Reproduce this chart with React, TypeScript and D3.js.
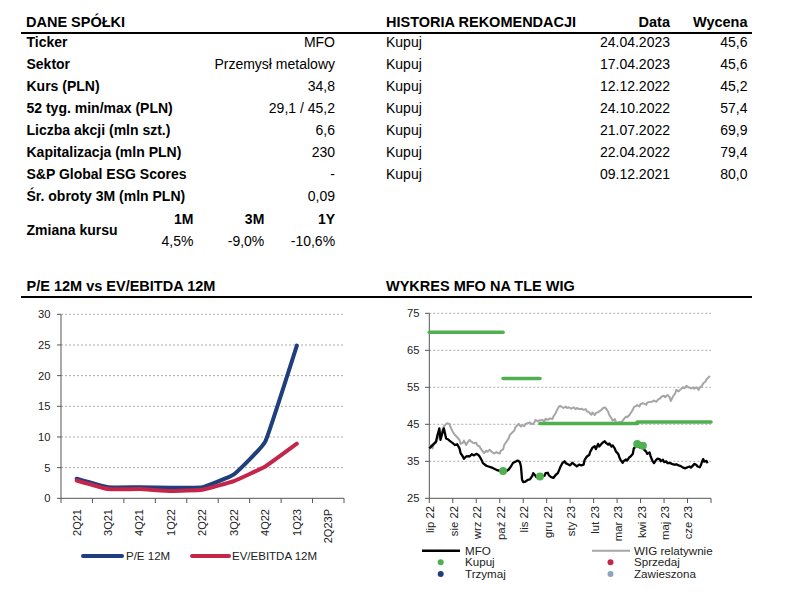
import React from "react";
import * as d3 from "d3";

// ---------- Table data ----------
const companyLabels = ["Ticker", "Sektor", "Kurs (PLN)", "52 tyg. min/max (PLN)", "Liczba akcji (mln szt.)", "Kapitalizacja (mln PLN)", "S&P Global ESG Scores", "Śr. obroty 3M (mln PLN)"];
const companyValues = ["MFO", "Przemysł metalowy", "34,8", "29,1 / 45,2", "6,6", "230", "-", "0,09"];
const changePeriods = ["1M", "3M", "1Y"];
const changeValues = ["4,5%", "-9,0%", "-10,6%"];

const recTypes = ["Kupuj", "Kupuj", "Kupuj", "Kupuj", "Kupuj", "Kupuj", "Kupuj"];
const recDates = ["24.04.2023", "17.04.2023", "12.12.2022", "24.10.2022", "21.07.2022", "22.04.2022", "09.12.2021"];
const recValues = ["45,6", "45,6", "45,2", "57,4", "69,9", "79,4", "80,0"];

// ---------- P/E vs EV/EBITDA ----------
const quarters = ["2Q21", "3Q21", "4Q21", "1Q22", "2Q22", "3Q22", "4Q22", "1Q23", "2Q23P"];
const peValues: (number | null)[] = [3.2, 1.8, 1.8, 1.7, 1.8, 3.9, 9.3, 24.9, null];
const evValues: (number | null)[] = [2.9, 1.5, 1.5, 1.2, 1.4, 2.8, 5.2, 8.9, null];
const leftTicks = [0, 5, 10, 15, 20, 25, 30];

// ---------- MFO vs WIG (x = trading-day index) ----------
const monthLabels = ["lip 22", "sie 22", "wrz 22", "paź 22", "lis 22", "gru 22", "sty 23", "lut 23", "mar 23", "kwi 23", "maj 23", "cze 23", ""];
const rightTicks = [25, 35, 45, 55, 65, 75];
const mfoPoints: [number, number][] = [
  [0, 38.5], [2, 39.1], [4, 39.7], [6, 40.3], [7, 41.7], [9, 43.9], [10, 40.8], [12, 43.0], [13, 43.9], [15, 41.2],
  [17, 40.9], [18, 40.6], [21, 39.9], [23, 39.4], [25, 39.6], [27, 38.5], [28, 37.2], [30, 36.3], [31, 35.7], [33, 36.3],
  [35, 36.4], [36, 36.3], [38, 36.9], [40, 36.6], [42, 37.0], [44, 36.7], [45, 36.3], [47, 35.2], [48, 34.5], [51, 33.8],
  [53, 33.6], [56, 33.3], [58, 33.0], [60, 32.7], [63, 32.4], [65, 32.2], [67, 32.7], [69, 32.4], [71, 32.8], [73, 33.6],
  [75, 34.6], [77, 34.9], [79, 35.2], [81, 34.8], [82, 33.6], [83, 30.0], [84, 29.4], [86, 29.5], [88, 30.0], [90, 30.1],
  [92, 31.0], [93, 31.8], [95, 31.1], [96, 30.7], [98, 31.0], [101, 30.9], [103, 31.1], [104, 31.8], [106, 31.9], [107, 31.2],
  [109, 30.7], [111, 30.5], [113, 31.3], [115, 31.8], [117, 33.3], [119, 34.5], [121, 35.0], [122, 34.5], [124, 34.2], [126, 33.9],
  [128, 34.6], [130, 34.1], [132, 33.6], [134, 34.1], [136, 33.9], [138, 34.1], [139, 35.4], [141, 36.3], [143, 36.7], [144, 37.6],
  [146, 38.7], [148, 39.1], [149, 38.3], [151, 39.7], [152, 39.0], [154, 39.7], [155, 40.0], [157, 40.4], [158, 40.0], [160, 39.5],
  [161, 39.8], [163, 39.0], [164, 39.3], [166, 38.4], [167, 37.6], [169, 37.0], [170, 36.1], [171, 35.4], [173, 34.6], [174, 35.1],
  [176, 35.5], [177, 35.2], [179, 36.1], [180, 36.3], [182, 37.0], [183, 38.5], [185, 39.1], [186, 39.7], [188, 38.8], [189, 39.3],
  [191, 39.1], [192, 38.2], [194, 37.6], [195, 37.0], [197, 37.4], [198, 36.3], [200, 34.9], [201, 34.5], [203, 35.4], [204, 35.7],
  [206, 35.6], [207, 35.0], [209, 35.4], [210, 34.8], [212, 35.0], [213, 34.5], [215, 34.6], [217, 34.3], [219, 34.1], [221, 34.2],
  [223, 33.9], [225, 33.7], [227, 33.3], [229, 33.1], [231, 33.4], [233, 33.6], [234, 33.3], [236, 33.9], [237, 34.3], [239, 34.0],
  [240, 33.6], [242, 33.4], [243, 34.0], [244, 34.9], [245, 35.6], [246, 34.9], [248, 35.1], [249, 34.5],
];
const wigPoints: [number, number][] = [
  [0, 39.0], [1, 39.3], [3, 38.5], [4, 39.7], [6, 40.0], [7, 40.9], [10, 42.4], [12, 43.6], [13, 44.5], [16, 45.3],
  [18, 45.1], [19, 44.2], [21, 43.0], [23, 42.1], [25, 41.5], [27, 40.8], [28, 39.7], [30, 40.0], [31, 40.6], [33, 39.4],
  [34, 40.0], [36, 40.8], [37, 40.5], [39, 40.0], [40, 39.9], [42, 40.0], [43, 39.3], [45, 39.0], [46, 38.4], [48, 37.6],
  [49, 37.2], [51, 37.9], [52, 37.6], [54, 38.1], [55, 37.8], [57, 37.3], [58, 37.1], [60, 37.5], [61, 37.3], [63, 37.1],
  [64, 37.9], [66, 38.2], [67, 39.4], [69, 40.3], [71, 41.2], [72, 42.1], [74, 42.7], [76, 43.3], [77, 44.2], [79, 44.8],
  [80, 45.1], [82, 44.4], [83, 44.8], [85, 44.5], [86, 45.1], [88, 45.3], [90, 45.5], [92, 45.0], [94, 45.5], [95, 46.2],
  [97, 45.8], [98, 46.0], [101, 46.2], [103, 45.8], [104, 46.5], [106, 46.2], [108, 46.6], [110, 46.4], [111, 47.1], [113, 48.0],
  [114, 48.7], [116, 49.8], [117, 50.0], [119, 49.6], [120, 49.4], [122, 49.8], [123, 49.4], [125, 49.6], [127, 49.2], [129, 49.6],
  [131, 49.1], [132, 49.4], [134, 49.1], [136, 49.2], [138, 48.9], [140, 49.1], [141, 48.5], [143, 48.2], [145, 47.6], [146, 48.2],
  [148, 47.5], [149, 48.0], [151, 48.3], [152, 48.5], [154, 48.9], [155, 49.3], [157, 49.6], [158, 49.3], [160, 48.4], [161, 47.5],
  [163, 46.6], [164, 46.0], [166, 46.4], [167, 45.6], [169, 45.1], [170, 45.7], [171, 45.3], [173, 46.0], [174, 46.4], [176, 47.1],
  [177, 46.9], [179, 47.5], [180, 48.0], [182, 48.9], [183, 49.6], [185, 50.0], [186, 50.2], [188, 49.8], [189, 50.5], [191, 50.7],
  [194, 50.3], [195, 50.9], [197, 51.0], [199, 51.1], [201, 51.4], [203, 51.1], [205, 51.8], [206, 51.9], [208, 52.5], [210, 52.7],
  [211, 52.3], [213, 52.9], [215, 52.3], [216, 51.3], [218, 52.5], [220, 53.4], [221, 54.3], [223, 53.9], [225, 54.5], [227, 55.0],
  [228, 54.7], [230, 55.4], [232, 55.0], [234, 54.7], [236, 55.0], [237, 54.6], [239, 55.0], [241, 54.3], [242, 55.0], [244, 55.4],
  [245, 56.1], [247, 56.5], [248, 57.2], [250, 57.7], [251, 58.1],
];
const targetStart = [0, 66, 99, 186];
const targetEnd = [66, 99, 186, 252];
const targetValue = [69.9, 57.4, 45.2, 45.6];
const buyDotDay = [66, 99, 186, 191];
const buyDotPrice = [32.4, 30.9, 39.7, 39.2];

const FONT = "'Liberation Sans', Arial, sans-serif";
const GREEN = "#4fb050";
const NAVY = "#1f3e7c";
const CRIMSON = "#c3254b";
const GREY = "#a6a6a6";

export default function App() {
  // Left chart scales
  const lx = d3.scaleBand<string>().domain(quarters).range([61, 344]).padding(0);
  const ly = d3.scaleLinear().domain([0, 30]).range([498.3, 314.3]);
  const lineL = d3
    .line<number | null>()
    .defined((d) => d !== null)
    .x((_, i) => (lx(quarters[i]) as number) + lx.bandwidth() / 2)
    .y((d) => ly(d as number))
    .curve(d3.curveCardinal.tension(0.7));

  // Right chart scales
  const rx = d3.scaleLinear().domain([0, 252]).range([429.3, 711]);
  const ry = d3.scaleLinear().domain([25, 75]).range([498.3, 313.3]);
  const lineR = d3.line<[number, number]>().x((d) => rx(d[0])).y((d) => ry(d[1]));
  const monthTicks = monthLabels.map((_, i) => i * 21);

  const rowY = (i: number) => 47.3 + i * 22;

  return (
    <div style={{ position: "absolute", left: 0, top: 0 }}>
      <svg width={800} height={602} style={{ display: "block", background: "#fff" }} fontFamily={FONT}>
        <rect width={800} height={602} fill="#fff" />
        {/* ===== Top tables ===== */}
        <text x={26} y={26.5} fontSize={14.5} fontWeight="bold" fill="#000">DANE SPÓŁKI</text>
        <text x={386} y={26.5} fontSize={14.5} fontWeight="bold" fill="#000">HISTORIA REKOMENDACJI</text>
        <text x={670} y={26.5} fontSize={14.5} fontWeight="bold" textAnchor="end" fill="#000">Data</text>
        <text x={747.5} y={26.5} fontSize={14.5} fontWeight="bold" textAnchor="end" fill="#000">Wycena</text>
        <line x1={21} x2={752} y1={33} y2={33} stroke="#000" strokeWidth={2} />

        {companyLabels.map((l, i) => (
          <g key={l}>
            <text x={26.5} y={rowY(i)} fontSize={14} fontWeight="bold" fill="#000">{l}</text>
            <text x={335} y={rowY(i)} fontSize={14} textAnchor="end" fill="#000">{companyValues[i]}</text>
          </g>
        ))}
        <text x={26.5} y={234.5} fontSize={14} fontWeight="bold" fill="#000">Zmiana kursu</text>
        {changePeriods.map((p, i) => (
          <g key={p}>
            <text x={193.5 + i * 70.8} y={224} fontSize={14} fontWeight="bold" textAnchor="end" fill="#000">{p}</text>
            <text x={193.5 + i * 70.8} y={245.7} fontSize={14} textAnchor="end" fill="#000">{changeValues[i]}</text>
          </g>
        ))}

        {recDates.map((d, i) => (
          <g key={d}>
            <text x={386} y={rowY(i)} fontSize={14} fill="#000">{recTypes[i]}</text>
            <text x={670} y={rowY(i)} fontSize={14} textAnchor="end" fill="#000">{d}</text>
            <text x={747.5} y={rowY(i)} fontSize={14} textAnchor="end" fill="#000">{recValues[i]}</text>
          </g>
        ))}

        {/* ===== Section titles ===== */}
        <text x={26.5} y={290.5} fontSize={14.5} fontWeight="bold" fill="#000">P/E 12M vs EV/EBITDA 12M</text>
        <text x={386} y={290.5} fontSize={14.5} fontWeight="bold" fill="#000">WYKRES MFO NA TLE WIG</text>
        <line x1={21} x2={752} y1={297} y2={297} stroke="#000" strokeWidth={2} />

        {/* ===== Left chart ===== */}
        {leftTicks.map((t) => (
          <g key={t}>
            {t > 0 && (
              <line x1={61} x2={344} y1={ly(t)} y2={ly(t)} stroke="#aaa" strokeWidth={1} strokeDasharray="2,2" />
            )}
            <line x1={57} x2={61} y1={ly(t)} y2={ly(t)} stroke="#555" />
            <text x={50.5} y={ly(t)} dy="0.35em" fontSize={11.2} textAnchor="end" fill="#222">{t}</text>
          </g>
        ))}
        <line x1={61} x2={61} y1={314.3} y2={498.3} stroke="#555" />
        <line x1={61} x2={344} y1={498.3} y2={498.3} stroke="#555" />
        {quarters.map((q, i) => (
          <g key={q}>
            <line x1={lx(q) as number} x2={lx(q) as number} y1={498.3} y2={503} stroke="#555" />
            {i === quarters.length - 1 && <line x1={344} x2={344} y1={498.3} y2={503} stroke="#555" />}
            <text
              transform={`translate(${(lx(q) as number) + lx.bandwidth() / 2},509) rotate(-90)`}
              textAnchor="end"
              dy="0.35em"
              fontSize={11}
              fill="#222"
            >
              {q}
            </text>
          </g>
        ))}
        <path d={lineL(peValues) || ""} fill="none" stroke={NAVY} strokeWidth={4} strokeLinejoin="round" strokeLinecap="round" />
        <path d={lineL(evValues) || ""} fill="none" stroke={CRIMSON} strokeWidth={4} strokeLinejoin="round" strokeLinecap="round" />

        {/* left legend */}
        <line x1={83} x2={122} y1={556} y2={556} stroke={NAVY} strokeWidth={4} strokeLinecap="round" />
        <text x={126} y={556} dy="0.35em" fontSize={11.5} fill="#222">P/E 12M</text>
        <line x1={192} x2={229} y1={556} y2={556} stroke={CRIMSON} strokeWidth={4} strokeLinecap="round" />
        <text x={232} y={556} dy="0.35em" fontSize={11.5} fill="#222">EV/EBITDA 12M</text>

        {/* ===== Right chart ===== */}
        {rightTicks.map((t) => (
          <g key={t}>
            {t > 25 && (
              <line x1={429.3} x2={711} y1={ry(t)} y2={ry(t)} stroke="#aaa" strokeWidth={1} strokeDasharray="2,2" />
            )}
            <line x1={425} x2={429.3} y1={ry(t)} y2={ry(t)} stroke="#555" />
            <text x={419.5} y={ry(t)} dy="0.35em" fontSize={11.2} textAnchor="end" fill="#222">{t}</text>
          </g>
        ))}
        <line x1={429.3} x2={429.3} y1={313.3} y2={498.3} stroke="#555" />
        <line x1={429.3} x2={711} y1={498.3} y2={498.3} stroke="#555" />
        {monthTicks.map((d, i) => (
          <g key={d}>
            <line x1={rx(d)} x2={rx(d)} y1={498.3} y2={503} stroke="#555" />
            {monthLabels[i] && (
              <text
                transform={`translate(${rx(d) + 1},506) rotate(-90)`}
                textAnchor="end"
                dy="0.35em"
                fontSize={11.3}
                fill="#222"
              >
                {monthLabels[i]}
              </text>
            )}
          </g>
        ))}
        <path d={lineR(wigPoints) || ""} fill="none" stroke={GREY} strokeWidth={2} strokeLinejoin="round" />
        {targetValue.map((v, i) => (
          <line
            key={i}
            x1={rx(targetStart[i])}
            x2={rx(targetEnd[i])}
            y1={ry(v)}
            y2={ry(v)}
            stroke={GREEN}
            strokeWidth={3.5}
            strokeLinecap="round"
          />
        ))}
        <path d={lineR(mfoPoints) || ""} fill="none" stroke="#000" strokeWidth={2.3} strokeLinejoin="round" />
        {buyDotDay.map((d, i) => (
          <circle key={i} cx={rx(d)} cy={ry(buyDotPrice[i])} r={4} fill={GREEN} />
        ))}

        {/* right legend */}
        <line x1={422} x2={460} y1={550.7} y2={550.7} stroke="#000" strokeWidth={2.5} />
        <text x={465} y={550.7} dy="0.35em" fontSize={11.6} fill="#222">MFO</text>
        <line x1={592} x2={630} y1={550.7} y2={550.7} stroke={GREY} strokeWidth={2} />
        <text x={634} y={550.7} dy="0.35em" fontSize={11.6} fill="#222">WIG relatywnie</text>
        <circle cx={440.7} cy={562.3} r={3} fill={GREEN} />
        <text x={465} y={562.3} dy="0.35em" fontSize={11.6} fill="#222">Kupuj</text>
        <circle cx={440.7} cy={574} r={3} fill={NAVY} />
        <text x={465} y={574} dy="0.35em" fontSize={11.6} fill="#222">Trzymaj</text>
        <circle cx={610.5} cy={562.3} r={3} fill={CRIMSON} />
        <text x={634} y={562.3} dy="0.35em" fontSize={11.6} fill="#222">Sprzedaj</text>
        <circle cx={610.5} cy={574} r={3} fill="#8ea4bb" />
        <text x={634} y={574} dy="0.35em" fontSize={11.6} fill="#222">Zawieszona</text>
      </svg>
    </div>
  );
}
